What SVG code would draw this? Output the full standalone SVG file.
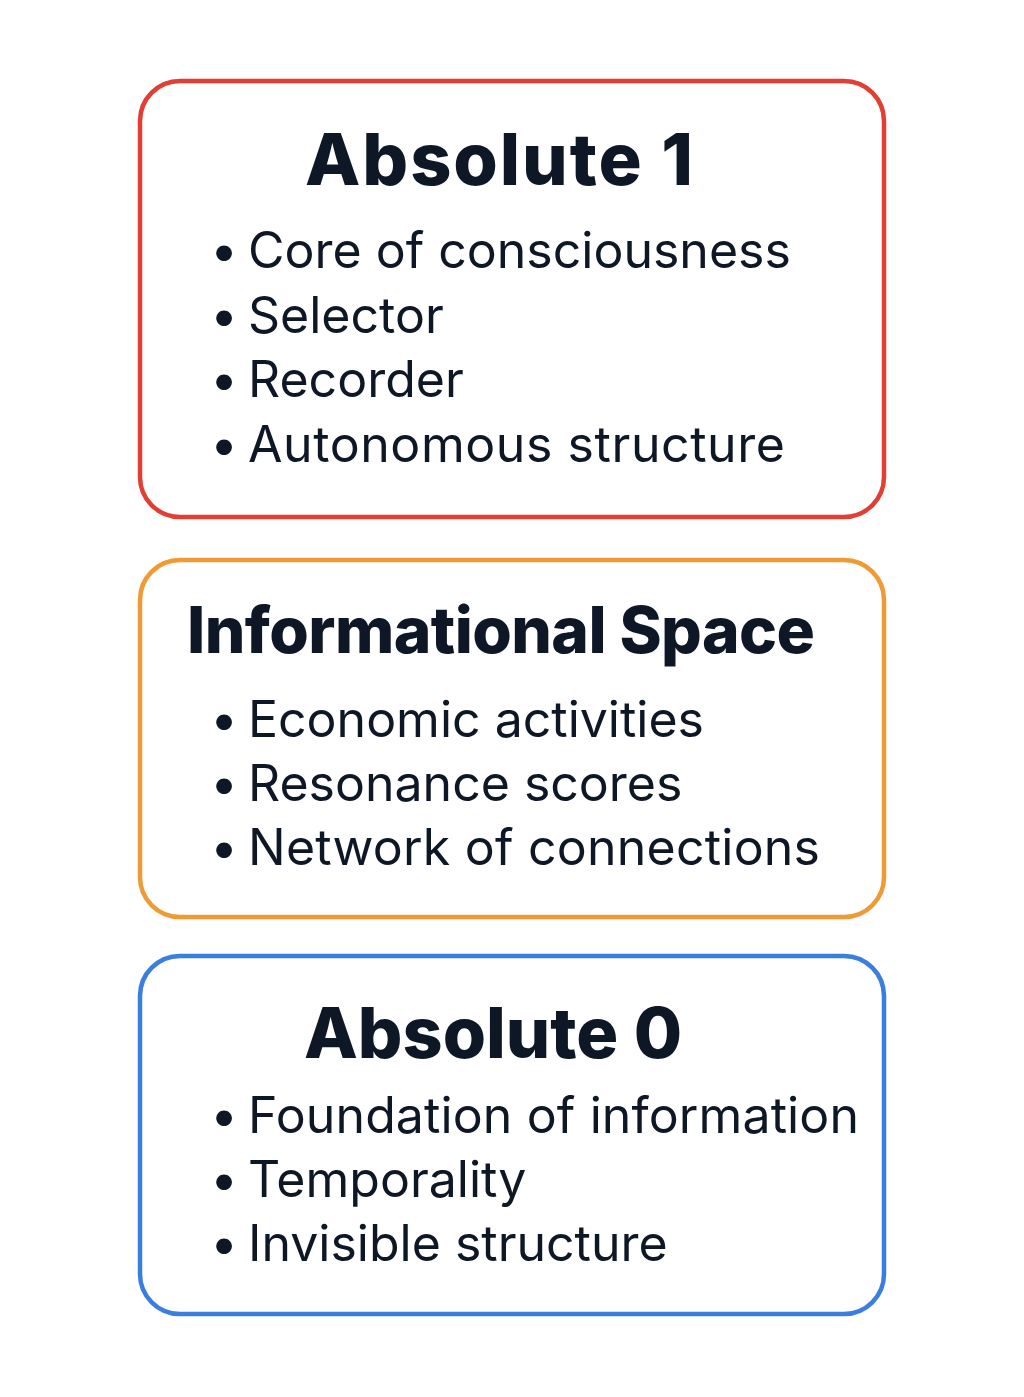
<svg xmlns="http://www.w3.org/2000/svg" width="1024" height="1397" viewBox="0 0 1024 1397">
  <style>
    .box { fill: #ffffff; stroke-width: 4.5; }
    .title { font-family: Inter, "Liberation Sans", sans-serif; font-weight: 800; fill: #0e1726; }
    .item { font-family: Inter, "Liberation Sans", sans-serif; font-weight: 400; font-size: 50px; fill: #0e1726; }
  </style>
  <rect width="1024" height="1397" fill="#ffffff"/>

  <g id="absolute-1">
    <rect class="box" x="140" y="81" width="744" height="436" rx="40" stroke="#e33e33"/>
    <text class="title" x="305" y="185" font-size="72" textLength="388" lengthAdjust="spacing">Absolute 1</text>
    <text class="item" y="268"><tspan x="210">•</tspan><tspan x="248">Core of consciousness</tspan></text>
    <text class="item" y="333"><tspan x="210">•</tspan><tspan x="248">Selector</tspan></text>
    <text class="item" y="397"><tspan x="210">•</tspan><tspan x="248">Recorder</tspan></text>
    <text class="item" y="462"><tspan x="210">•</tspan><tspan x="248" textLength="537" lengthAdjust="spacing">Autonomous structure</tspan></text>
  </g>

  <g id="informational-space">
    <rect class="box" x="140" y="560" width="744" height="357" rx="40" stroke="#f09a36"/>
    <text class="title" x="187" y="653" font-size="64" textLength="628" lengthAdjust="spacing">Informational Space</text>
    <text class="item" y="737"><tspan x="210">•</tspan><tspan x="248">Economic activities</tspan></text>
    <text class="item" y="801"><tspan x="210">•</tspan><tspan x="248">Resonance scores</tspan></text>
    <text class="item" y="865"><tspan x="210">•</tspan><tspan x="248" textLength="572" lengthAdjust="spacing">Network of connections</tspan></text>
  </g>

  <g id="absolute-0">
    <rect class="box" x="140" y="956" width="744" height="358" rx="40" stroke="#3a7ee0"/>
    <text class="title" x="304" y="1058" font-size="70">Absolute 0</text>
    <text class="item" y="1133"><tspan x="210">•</tspan><tspan x="248" textLength="611" lengthAdjust="spacing">Foundation of information</tspan></text>
    <text class="item" y="1197"><tspan x="210">•</tspan><tspan x="248">Temporality</tspan></text>
    <text class="item" y="1261"><tspan x="210">•</tspan><tspan x="248">Invisible structure</tspan></text>
  </g>

  <g id="connectors"/>
</svg>
